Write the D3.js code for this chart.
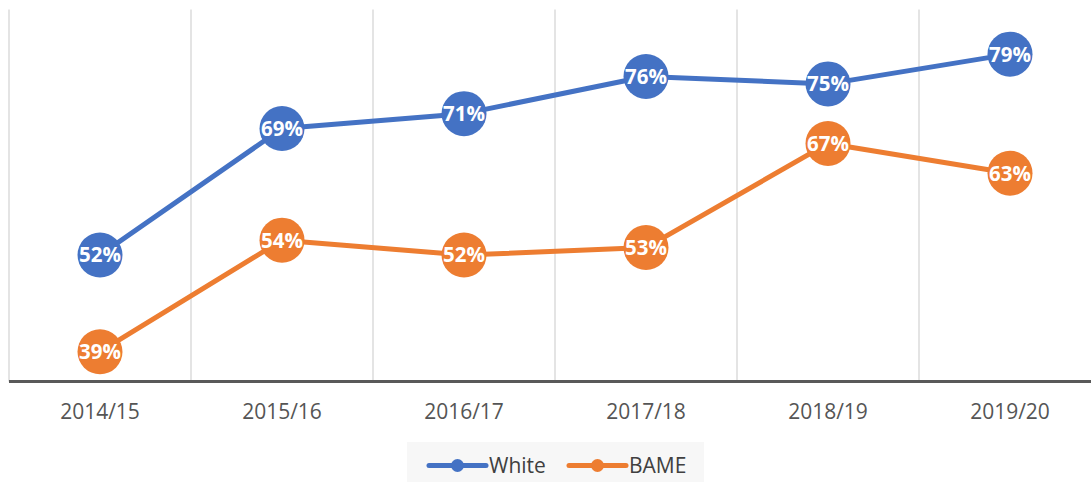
<!DOCTYPE html>
<html><head><meta charset="utf-8">
<script src="https://cdn.jsdelivr.net/npm/d3@7/dist/d3.min.js"></script>
<style>body{margin:0;background:#fff}svg{display:block}</style>
</head><body>
<svg id="c" width="1091" height="483"></svg>
<script>
const categories = ["2014/15","2015/16","2016/17","2017/18","2018/19","2019/20"];
const whiteValues = [52,69,71,76,75,79];
const bameValues = [39,54,52,53,67,63];
const seriesNames = ["White","BAME"];
const seriesColors = ["#4472C4","#ED7D31"];

const svg = d3.select("#c");
const x = d3.scaleBand().domain(categories).range([9, 1101]);
const y = d3.scaleLinear().domain([35, 85]).range([381.5, 9.5]);
const font = "'Open Sans', sans-serif";

// gridlines at band edges
const edges = categories.map(c => x(c)).concat([x(categories[categories.length-1]) + x.bandwidth()]);
svg.append("g").selectAll("line").data(edges).join("line")
  .attr("x1", d => d).attr("x2", d => d)
  .attr("y1", y(85)).attr("y2", y(35))
  .attr("stroke", "#d6d6d6").attr("stroke-width", 1.3);

// baseline axis
svg.append("line").attr("x1", 9).attr("x2", 1091).attr("y1", y(35)).attr("y2", y(35))
  .attr("stroke", "#595959").attr("stroke-width", 3);

// category labels
const xAxis = d3.axisBottom(x).tickSize(0).tickPadding(0);
const gx = svg.append("g").attr("transform", `translate(0,${y(35)})`).call(xAxis);
gx.select(".domain").remove();
gx.selectAll("text").attr("font-family", font).attr("font-size", 21).attr("fill", "#555")
  .attr("dy", null).attr("y", 37);

const series = [whiteValues, bameValues];
const line = d3.line().x((d,i) => x(categories[i]) + x.bandwidth()/2).y(d => y(d));
series.forEach((vals, si) => {
  const g = svg.append("g");
  g.append("path").datum(vals).attr("d", line).attr("fill", "none")
    .attr("stroke", seriesColors[si]).attr("stroke-width", 5).attr("stroke-linejoin", "round");
  g.selectAll("circle").data(vals).join("circle")
    .attr("cx", (d,i) => x(categories[i]) + x.bandwidth()/2).attr("cy", d => y(d))
    .attr("r", 22.5).attr("fill", seriesColors[si]);
  g.selectAll("text").data(vals).join("text")
    .attr("x", (d,i) => x(categories[i]) + x.bandwidth()/2).attr("y", d => y(d))
    .attr("dy", "0.36em").attr("text-anchor", "middle")
    .attr("font-family", font).attr("font-weight", "bold").attr("font-size", 20.5)
    .attr("fill", "#fff").text(d => d + "%");
});

// legend
const lg = svg.append("g");
lg.append("rect").attr("x", 407).attr("y", 442).attr("width", 297).attr("height", 40).attr("fill", "#f7f7f7");
const legX = [429, 569];
seriesNames.forEach((n, i) => {
  lg.append("line").attr("x1", legX[i]).attr("x2", legX[i] + 57).attr("y1", 465.5).attr("y2", 465.5)
    .attr("stroke", seriesColors[i]).attr("stroke-width", 5).attr("stroke-linecap", "round");
  lg.append("circle").attr("cx", legX[i] + 28.5).attr("cy", 465.5).attr("r", 6.5).attr("fill", seriesColors[i]);
  lg.append("text").attr("x", legX[i] + 60).attr("y", 465.5).attr("dy", "0.36em")
    .attr("font-family", font).attr("font-size", 21).attr("fill", "#404040").text(n);
});
</script>
</body></html>
